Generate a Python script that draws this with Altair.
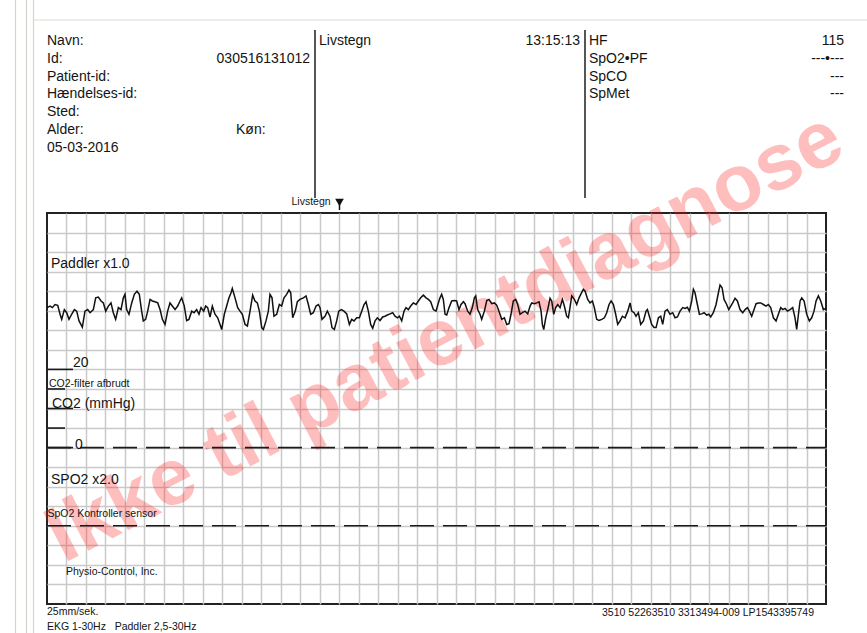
import altair as alt
import pandas as pd

# ---------------- data ----------------
# ECG (Paddler x1.0) – time in seconds (25 mm/s, 8 s strip), amplitude in mV
ECG_T = [
    0.000, 0.031, 0.055, 0.082, 0.110, 0.134, 0.151, 0.178, 0.202, 0.226,
    0.253, 0.281, 0.305, 0.329, 0.363, 0.390, 0.418, 0.442, 0.476, 0.500,
    0.527, 0.555, 0.579, 0.603, 0.630, 0.657, 0.681, 0.705, 0.733, 0.760,
    0.784, 0.801, 0.818, 0.842, 0.870, 0.897, 0.924, 0.948, 0.972, 0.989,
    1.013, 1.034, 1.058, 1.082, 1.109, 1.137, 1.161, 1.185, 1.212, 1.239,
    1.263, 1.287, 1.315, 1.342, 1.366, 1.383, 1.410, 1.434, 1.458, 1.486,
    1.510, 1.537, 1.561, 1.582, 1.609, 1.630, 1.650, 1.674, 1.698, 1.725,
    1.753, 1.777, 1.794, 1.821, 1.845, 1.869, 1.890, 1.903, 1.931, 1.958,
    1.982, 2.006,
    2.034, 2.058, 2.085, 2.112, 2.136, 2.160, 2.181, 2.205, 2.222, 2.249,
    2.273, 2.290, 2.311, 2.331, 2.359, 2.386, 2.410, 2.434, 2.461, 2.485,
    2.503, 2.523, 2.550, 2.571, 2.598, 2.633, 2.660, 2.684, 2.708, 2.735,
    2.763, 2.787, 2.804, 2.824, 2.855, 2.879, 2.906, 2.927, 2.951, 2.975,
    2.996, 3.023, 3.050, 3.078, 3.105, 3.129, 3.153, 3.180, 3.208, 3.232,
    3.256, 3.276, 3.300, 3.324, 3.345, 3.369, 3.393, 3.420, 3.447, 3.471,
    3.495, 3.523, 3.550, 3.574, 3.598, 3.619, 3.643, 3.667, 3.687, 3.711,
    3.735, 3.762, 3.790, 3.814, 3.838, 3.865, 3.893, 3.916, 3.940, 3.968,
    3.995, 4.019,
    4.036, 4.053, 4.070, 4.088, 4.105, 4.129, 4.156, 4.183, 4.207, 4.231,
    4.252, 4.276, 4.293, 4.320, 4.344, 4.368, 4.389, 4.403, 4.423, 4.447,
    4.464, 4.492, 4.516, 4.539, 4.567, 4.594, 4.618, 4.635, 4.652, 4.670,
    4.697, 4.721, 4.745, 4.765, 4.789, 4.813, 4.834, 4.858, 4.882, 4.909,
    4.937, 4.961, 4.978, 5.005, 5.029, 5.053, 5.074, 5.087, 5.101, 5.122,
    5.142, 5.166, 5.183, 5.204, 5.224, 5.245, 5.269, 5.293, 5.313, 5.337,
    5.354, 5.371, 5.389, 5.416, 5.440, 5.464, 5.484, 5.508, 5.526, 5.553,
    5.577, 5.601, 5.621, 5.645, 5.669, 5.697, 5.724, 5.748, 5.772, 5.793,
    5.817, 5.840, 5.861, 5.885, 5.909, 5.936, 5.964, 5.988,
    6.005, 6.029, 6.049, 6.073, 6.097, 6.125, 6.152, 6.166, 6.186, 6.210,
    6.234, 6.255, 6.279, 6.303, 6.323, 6.347, 6.371, 6.398, 6.426, 6.450,
    6.474, 6.501, 6.529, 6.553, 6.576, 6.597, 6.621, 6.638, 6.655, 6.679,
    6.700, 6.724, 6.748, 6.775, 6.796, 6.816, 6.843, 6.871, 6.895, 6.912,
    6.933, 6.953, 6.980, 7.001, 7.022, 7.042, 7.066, 7.090, 7.117, 7.145,
    7.169, 7.193, 7.213, 7.237, 7.261, 7.282, 7.306, 7.330, 7.357, 7.384,
    7.408, 7.432, 7.460, 7.487, 7.511, 7.535, 7.556, 7.580, 7.604, 7.631,
    7.658, 7.682, 7.699, 7.717, 7.734, 7.751, 7.775, 7.802, 7.829, 7.853,
    7.877, 7.898, 7.922, 7.946, 7.973, 7.997,
]
ECG_MV = [
    0.08, 0.12, 0.08, 0.16, 0.14, -0.09, -0.22, 0.03, -0.05, -0.22,
    -0.09, 0.03, -0.01, -0.26, -0.42, -0.01, 0.03, -0.05, 0.03, 0.33,
    0.35, 0.25, 0.20, -0.01, 0.12, 0.20, -0.05, -0.22, 0.08, 0.03,
    0.33, 0.42, 0.03, -0.09, 0.20, 0.42, 0.50, 0.42, -0.01, -0.26,
    -0.22, -0.01, 0.29, 0.25, 0.23, 0.20, 0.03, -0.22, -0.35, -0.01,
    0.20, 0.12, 0.03, 0.12, 0.25, 0.33, 0.12, -0.25, -0.22, -0.01,
    -0.05, 0.03, -0.09, 0.08, -0.01, 0.12, 0.08, -0.16, 0.12, -0.09,
    -0.18, -0.35, -0.48, -0.09, 0.12, 0.33, 0.46, 0.57, 0.33, 0.08,
    -0.01, -0.09,
    -0.35, -0.39, -0.01, 0.40, 0.25, 0.20, -0.01, -0.43, -0.48, -0.26,
    -0.01, 0.42, 0.33, -0.14, -0.09, 0.16, 0.12, 0.33, 0.42, 0.53,
    0.46, -0.18, -0.01, 0.23, 0.29, 0.33, 0.38, 0.16, -0.09, -0.05,
    0.12, 0.16, 0.08, -0.22, -0.14, -0.01, -0.14, -0.43, -0.48, -0.26,
    -0.01, 0.03, -0.01, -0.08, -0.35, -0.22, -0.26, -0.18, -0.18, -0.01,
    0.16, 0.23, -0.01, -0.35, -0.45, -0.26, -0.18, -0.25, -0.16, -0.14,
    -0.11, -0.08, -0.05, -0.14, -0.18, -0.14, -0.26, -0.01, 0.08, 0.03,
    0.12, 0.20, 0.16, 0.25, 0.33, 0.40, 0.33, 0.29, 0.23, 0.03,
    -0.01, 0.20,
    0.33, 0.42, 0.29, -0.09, -0.11, 0.08, 0.25, 0.26, 0.25, 0.03,
    0.16, 0.23, 0.18, -0.01, -0.09, 0.08, 0.33, 0.38, 0.03, -0.09,
    -0.22, -0.01, 0.26, 0.29, 0.18, 0.20, 0.14, 0.03, -0.09, -0.22,
    -0.18, -0.35, -0.33, -0.09, 0.25, 0.29, 0.16, -0.09, -0.05, -0.01,
    -0.08, 0.12, 0.20, 0.18, 0.20, 0.23, -0.01, -0.35, -0.48, -0.18,
    0.03, 0.32, 0.25, -0.09, 0.08, 0.16, 0.08, 0.29, 0.12, -0.14,
    -0.18, 0.08, 0.38, 0.29, 0.16, 0.33, 0.43, 0.55, 0.50, 0.29,
    0.20, 0.25, 0.08, -0.22, -0.25, -0.22, -0.18, -0.05, 0.16, 0.25,
    0.16, -0.09, -0.35, -0.26, -0.14, -0.18, -0.01, 0.20,
    -0.01, -0.05, -0.14, -0.05, -0.35, -0.26, -0.01, 0.03, -0.14, -0.35,
    -0.43, -0.43, -0.18, -0.14, -0.35, -0.01, 0.03, -0.09, -0.05, -0.18,
    -0.16, -0.01, 0.08, 0.06, 0.09, -0.01, 0.25, 0.55, 0.46, 0.16,
    -0.09, -0.08, -0.05, -0.11, -0.09, -0.16, -0.05, 0.16, 0.46, 0.66,
    0.59, 0.29, 0.16, 0.03, 0.12, 0.20, 0.32, 0.25, 0.03, -0.05,
    0.03, 0.08, -0.01, -0.14, 0.03, 0.18, 0.20, 0.20, 0.16, 0.12,
    0.16, 0.08, -0.18, -0.26, -0.09, 0.08, 0.03, 0.06, -0.01, 0.03,
    0.08, -0.18, -0.48, -0.09, 0.25, 0.33, 0.25, -0.09, -0.26, -0.18,
    -0.01, 0.25, 0.38, 0.25, 0.03, 0.06,
]
assert len(ECG_T) == len(ECG_MV)

# CO2 scale marks (mmHg) shown at the left of the CO2 channel
CO2_TICKS = [20, 15, 10, 5, 0]
CO2_TICK_LONG = [True, False, True, False, True]
CO2_LABELS = ["20", "0"]

# Header texts
HEAD_LEFT = ["Navn:", "Id:", "Patient-id:", "Hændelses-id:", "Sted:", "Alder:", "05-03-2016"]
HEAD_ID = "030516131012"
HEAD_SEX = "Køn:"
VITALS_TITLE = "Livstegn"
VITALS_TIME = "13:15:13"
VITAL_NAMES = ["HF", "SpO2•PF", "SpCO", "SpMet"]
VITAL_VALUES = ["115", "---•---", "---", "---"]
WATERMARK = "Ikke til patientdiagnose"

# ---------------- geometry ----------------
W, H = 779, 391           # grid (plot area) size in px
X0, Y0 = 47, 213          # grid origin on the page
T_MAX = 8.0               # 40 boxes x 0.2 s
MV_TOP, MV_BOT = 2.5, -7.5  # 20 boxes x 0.5 mV, ECG baseline 5 boxes below top


def t_of(px):
    return (px - X0) * T_MAX / W


def mv_of(py):
    return MV_TOP - (py - Y0) * (MV_TOP - MV_BOT) / H


def co2_to_mv(v):
    # CO2 channel: 0 mmHg on box-line 12, 20 mmHg on box-line 8
    return -3.5 + v / 20 * 2.0


SANS = "Liberation Sans, Arial, sans-serif"
INK = "#141414"

XS = alt.Scale(domain=[0, T_MAX], nice=False, zero=False)
YS = alt.Scale(domain=[MV_BOT, MV_TOP], nice=False, zero=False)
XA = alt.Axis(values=[round(0.2 * i, 4) for i in range(1, 40)], grid=True,
              gridColor="#c9c9c9", gridWidth=1.5, labels=False, ticks=False,
              domain=False, title=None)
YA = alt.Axis(values=[round(MV_BOT + 0.5 * i, 4) for i in range(1, 20)], grid=True,
              gridColor="#c9c9c9", gridWidth=1.5, labels=False, ticks=False,
              domain=False, title=None)


def X(f):
    return alt.X(f"{f}:Q", scale=XS, axis=XA)


def Y(f):
    return alt.Y(f"{f}:Q", scale=YS, axis=YA)


def rules(t1, t2, m1, m2, color, width, dash=None):
    df = pd.DataFrame({"t1": t1, "t2": t2, "m1": m1, "m2": m2})
    kw = dict(color=color, strokeWidth=width)
    if dash:
        kw["strokeDash"] = dash
    return alt.Chart(df).mark_rule(**kw).encode(
        x=X("t1"), x2="t2:Q", y=Y("m1"), y2="m2:Q")


def texts(labels, xs, ys, size, align="left", color=INK, weight="normal"):
    df = pd.DataFrame({"label": labels,
                       "t": [t_of(x) for x in xs],
                       "mv": [mv_of(y) for y in ys]})
    return alt.Chart(df).mark_text(
        align=align, baseline="alphabetic", fontSize=size, font=SANS,
        fontWeight=weight, color=color).encode(x=X("t"), y=Y("mv"), text="label:N")


layers = []

# watermark
wm = pd.DataFrame({"label": [WATERMARK], "t": [t_of(445)], "mv": [mv_of(338)]})
layers.append(alt.Chart(wm).mark_text(
    angle=332.5, align="center", baseline="middle", fontSize=80, font=SANS,
    fontWeight="bold", color="#ff1a1a", opacity=0.28).encode(
    x=X("t"), y=Y("mv"), text="label:N"))

# page decorations (window frame lines)
layers.append(rules([t_of(15.5), t_of(26.5), t_of(33.5)], [t_of(15.5), t_of(26.5), t_of(33.5)],
                    [mv_of(0), mv_of(0), mv_of(0)], [mv_of(633), mv_of(633), mv_of(633)],
                    "#d3d3cc", 1.2))
layers.append(rules([t_of(33.5)], [t_of(867)], [mv_of(20)], [mv_of(20)], "#dcdcd6", 1.2))

# header separators
layers.append(rules([t_of(315), t_of(585)], [t_of(315), t_of(585)],
                    [mv_of(30), mv_of(30)], [mv_of(198), mv_of(198)], "#2b2b2b", 1.6))

# CO2 scale ticks
co2_len = [t_of(73) if lng else t_of(65) for lng in CO2_TICK_LONG]
layers.append(rules([0] * len(CO2_TICKS), co2_len,
                    [co2_to_mv(v) for v in CO2_TICKS], [co2_to_mv(v) for v in CO2_TICKS],
                    "#1a1a1a", 1.6))

# dashed channel baselines (CO2 zero line and SpO2 line)
layers.append(rules([0, 0], [T_MAX, T_MAX], [co2_to_mv(0), -5.5], [co2_to_mv(0), -5.5],
                    "#1a1a1a", 1.6, dash=[24, 9]))

# ECG trace
ecg = pd.DataFrame({"t": ECG_T, "mv": ECG_MV})
layers.append(alt.Chart(ecg).mark_line(color="#111111", strokeWidth=1.5).encode(
    x=X("t"), y=Y("mv"), order="t:Q"))

# header texts
layers.append(texts(HEAD_LEFT, [47] * 7, [45, 62.5, 80.5, 98, 116, 134, 152], 14))
layers.append(texts([HEAD_SEX, VITALS_TITLE], [236, 319], [134, 45], 14))
layers.append(texts([HEAD_ID, VITALS_TIME], [310, 580], [62.5, 45], 14, align="right"))
layers.append(texts(VITAL_NAMES, [589] * 4, [45, 62.5, 80.5, 98], 14))
layers.append(texts(VITAL_VALUES, [844] * 4, [45, 62.5, 80.5, 98], 14, align="right"))

# strip labels
layers.append(texts(["Paddler x1.0", CO2_LABELS[0], "CO2 (mmHg)", CO2_LABELS[1], "SPO2 x2.0"],
                    [51, 73, 52, 75, 51], [268, 367, 407.5, 449, 484], 14))
layers.append(texts(["Livstegn", "CO2-filter afbrudt", "SpO2 Kontroller sensor",
                     "Physio-Control, Inc.", "25mm/sek.",
                     "EKG 1-30Hz\u00a0\u00a0 Paddler 2,5-30Hz"],
                    [291.5, 49, 47.5, 66, 47, 47], [205, 387, 516.5, 575, 615, 630], 10.5))
layers.append(texts(["3510 52263510 3313494-009 LP1543395749"], [814], [616], 10.5,
                    align="right"))

# Livstegn marker
mk = pd.DataFrame({"t": [t_of(339.5)], "mv": [mv_of(202.5)]})
layers.append(alt.Chart(mk).mark_point(shape="triangle-down", filled=True, size=75,
                                       color="#111111", opacity=1).encode(
    x=X("t"), y=Y("mv")))
layers.append(rules([t_of(339.5)], [t_of(339.5)], [mv_of(204)], [mv_of(210)], "#111111", 1.5))

chart = alt.layer(*layers).properties(
    width=W, height=H,
    padding={"left": 47, "top": 213, "right": 41, "bottom": 29},
    autosize=alt.AutoSizeParams(type="none"),
    background="white",
).configure_view(stroke="#222222", strokeWidth=2)

chart.save("out.html", embed_options={"renderer": "svg", "actions": False})
